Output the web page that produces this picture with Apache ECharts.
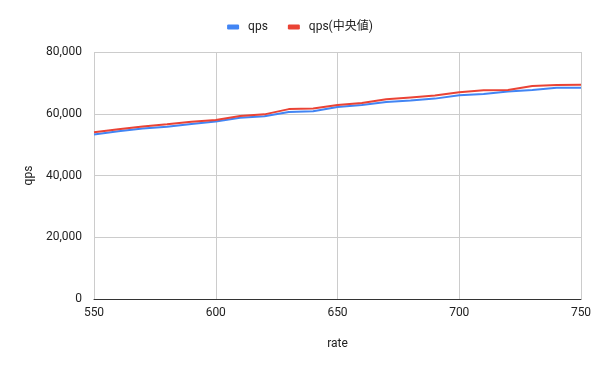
<!DOCTYPE html>
<html>
<head>
<meta charset="utf-8">
<script src="https://cdn.jsdelivr.net/npm/echarts@6/dist/echarts.min.js"></script>
<style>html,body{margin:0;padding:0;background:#fff;}#c{width:600px;height:371px;}</style>
</head>
<body>
<div id="c"></div>
<script>
const rates = [550,560,570,580,590,600,610,620,630,640,650,660,670,680,690,700,710,720,730,740,750];
const qps = [53300,54300,55200,55800,56700,57500,58700,59200,60600,60800,62200,62800,63800,64300,64900,66000,66400,67200,67700,68400,68400];
const qpsMedian = [54000,55000,55900,56600,57400,58000,59300,59800,61500,61700,62800,63500,64700,65300,65900,67000,67600,67700,69000,69300,69400];
const seriesNames = ['qps','qps(中央値)'];
const FONT = 'Roboto, "Noto Sans CJK JP", sans-serif';

const chart = echarts.init(document.getElementById('c'), null, {renderer:'canvas'});
chart.setOption({
  animation:false,
  textStyle:{fontFamily:FONT},
  color:['#4285F4','#EA4335'],
  legend:{
    top:16, left:'center',
    itemWidth:12, itemHeight:5, itemGap:20,
    icon:'roundRect',
    textStyle:{fontFamily:FONT,fontSize:12,color:'#222',padding:[0,0,0,4]},
    data:seriesNames
  },
  grid:{left:94,right:19,top:52,bottom:72,containLabel:false},
  xAxis:{
    type:'value', min:550, max:750, interval:50,
    name:'rate', nameLocation:'middle', nameGap:39,
    nameTextStyle:{fontFamily:FONT,fontSize:12,color:'#222'},
    axisLine:{show:true,onZero:false,lineStyle:{color:'#333',width:1}},
    axisTick:{show:false},
    axisLabel:{fontFamily:FONT,fontSize:12,color:'#222',margin:8},
    splitLine:{show:true,lineStyle:{color:'#ccc',width:1}}
  },
  yAxis:{
    type:'value', min:0, max:80000, interval:20000,
    name:'qps', nameLocation:'middle', nameGap:56,
    nameTextStyle:{fontFamily:FONT,fontSize:12,color:'#222'},
    axisLine:{show:false},
    axisTick:{show:false},
    axisLabel:{fontFamily:FONT,fontSize:12,color:'#222',margin:12,
      formatter:v=>v.toLocaleString('en-US')},
    splitLine:{show:true,lineStyle:{color:'#ccc',width:1}}
  },
  series:[
    {name:seriesNames[0],type:'line',showSymbol:false,symbol:'none',
     lineStyle:{width:2,color:'#4285F4'},
     data:rates.map((r,i)=>[r,qps[i]])},
    {name:seriesNames[1],type:'line',showSymbol:false,symbol:'none',
     lineStyle:{width:2,color:'#EA4335'},
     data:rates.map((r,i)=>[r,qpsMedian[i]])}
  ]
});
</script>
</body>
</html>
